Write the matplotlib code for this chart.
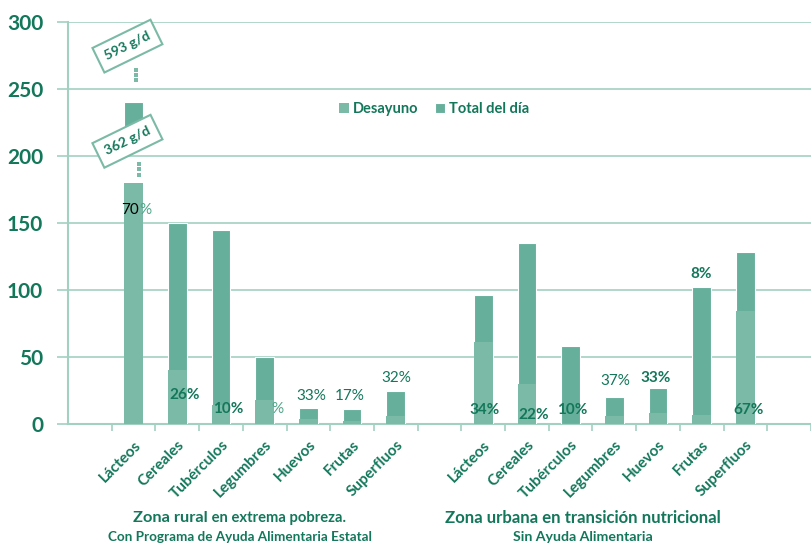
import matplotlib.pyplot as plt
import numpy as np

plt.rcParams['font.family'] = ['Lato', 'DejaVu Sans']

categorias = ['Lácteos', 'Cereales', 'Tubérculos', 'Legumbres', 'Huevos', 'Frutas', 'Superfluos']

# rural zone (lácteos bar is cut: real values 362 / 593 g/d)
total_rural = [240, 150, 145, 50, 12, 11, 25]
base_total_rural = [215, 0, 0, 0, 0, 0, 0]
desayuno_rural = [180, 40, 14.5, 18, 4, 2, 6]
pct_rural = ['70%', '26%', '10%', '%', '33%', '17%', '32%']

# urban zone
total_urbana = [96, 135, 58.5, 20.5, 26.5, 102, 128.5]
desayuno_urbana = [61, 30, 0, 6, 8.5, 7, 84]
pct_urbana = ['34%', '22%', '10%', '37%', '33%', '8%', '67%']

# where each percentage sits (x offset from bar, y in g/d)
pct_rural_pos = [(0.08, 160), (0.17, 22), (0.17, 11), (0.30, 11), (0.07, 21), (-0.05, 21), (0.01, 34)]
pct_urbana_pos = [(0.02, 10.5), (0.16, 7), (0.04, 10.5), (0.03, 32), (-0.06, 34), (-0.02, 112), (0.07, 10.5)]
pct_rural_bold = [False, True, True, False, False, False, False]
pct_urbana_bold = [True, True, True, False, True, True, True]

verde = '#13775a'
oscuro = '#66af9a'
claro = '#7bbaa6'
rejilla = '#a2d1c1'

x_rural = np.arange(1, 8)
x_urbana = np.arange(9, 16)
ancho = 0.43

fig = plt.figure(figsize=(8.11, 5.48), dpi=100)
ax = fig.add_axes([68 / 811, 124 / 548, 743 / 811, 402 / 548])

ax.bar(x_rural, np.array(total_rural) - np.array(base_total_rural), ancho,
       bottom=base_total_rural, color=oscuro, edgecolor='white', linewidth=0.8,
       zorder=3, label='Total del día')
ax.bar(x_rural, desayuno_rural, ancho, color=claro, linewidth=0,
       zorder=4, label='Desayuno')
ax.bar(x_urbana, total_urbana, ancho, color=oscuro, edgecolor='white',
       linewidth=0.8, zorder=3)
ax.bar(x_urbana, desayuno_urbana, ancho, color=claro, linewidth=0, zorder=4)

# percentage labels
for xs, pcts, pos, bolds in [(x_rural, pct_rural, pct_rural_pos, pct_rural_bold),
                             (x_urbana, pct_urbana, pct_urbana_pos, pct_urbana_bold)]:
    for xi, p, (dx, y), b in zip(xs, pcts, pos, bolds):
        if p == '70%':
            ax.text(xi + dx + 0.05, y, '70', ha='right', va='center', fontsize=11,
                    color='black', zorder=6)
            ax.text(xi + dx + 0.05, y, '%', ha='left', va='center', fontsize=11,
                    color='#4fa68a', zorder=6)
            continue
        col = '#4fa68a' if p == '%' else verde
        ax.text(xi + dx, y, p, ha='center', va='center', fontsize=11,
                fontweight='bold' if b else 'normal', color=col, zorder=6)

# break marks on the lácteos bar
x0 = x_rural[0]
for yy in [194, 190, 186]:
    ax.plot(x0 + 0.13, yy, 's', ms=2.2, mew=0, color=claro, zorder=5)
for yy in [264, 260.5, 257]:
    ax.plot(x0 + 0.05, yy, 's', ms=2.2, mew=0, color=claro, zorder=5)

caja = dict(boxstyle='square,pad=0.55', fc='white', ec=claro, lw=1.5)
ax.text(x0 - 0.14, 282, '593 g/d', rotation=26, ha='center', va='center',
        fontsize=10, fontweight='bold', color=verde, bbox=caja, zorder=7)
ax.text(x0 - 0.14, 211, '362 g/d', rotation=26, ha='center', va='center',
        fontsize=10, fontweight='bold', color=verde, bbox=caja, zorder=7)

ax.set_ylim(0, 300)
ax.set_xlim(-0.5, -0.5 + 743 / 44.2)
ax.set_yticks(range(0, 301, 50))
ax.grid(axis='y', color=rejilla, linewidth=1.2, zorder=0)
ax.tick_params(axis='y', length=8, width=1.2, color=rejilla, labelsize=15,
               labelcolor=verde, pad=10)
for lab in ax.get_yticklabels():
    lab.set_fontweight('bold')

ax.set_xticks(np.concatenate([x_rural, x_urbana]))
ax.set_xticklabels(categorias + categorias, rotation=45, ha='right',
                   rotation_mode='anchor', fontsize=11, fontweight='bold',
                   color=verde)
ax.tick_params(axis='x', which='major', length=0, pad=10)
ax.set_xticks(np.arange(0.5, 17), minor=True)
ax.tick_params(axis='x', which='minor', length=5, width=1.2, color=rejilla,
               direction='out')

for s in ['top', 'right']:
    ax.spines[s].set_visible(False)
ax.spines['left'].set_color(rejilla)
ax.spines['bottom'].set_color(rejilla)
ax.spines['left'].set_linewidth(1.5)
ax.spines['bottom'].set_linewidth(1.5)

h, l = ax.get_legend_handles_labels()
leg = fig.legend(h[::-1], l[::-1], loc='center', bbox_to_anchor=(434 / 811, 1 - 109 / 548),
                 ncol=2, frameon=False, fontsize=10.5, handlelength=0.7,
                 handleheight=0.7, handletextpad=0.3, columnspacing=1.1)
for t in leg.get_texts():
    t.set_color(verde)
    t.set_fontweight('bold')

# zone captions
t1 = fig.text(133 / 811, 1 - 518 / 548, 'Zona rural', ha='left', va='center',
              fontsize=11.8, fontweight='bold', color=verde)
ax.annotate(' en extrema pobreza.', xy=(1, 0.5), xycoords=t1, ha='left',
            va='center', fontsize=10.6, fontweight='bold', color=verde,
            annotation_clip=False)
fig.text(240 / 811, 1 - 537 / 548, 'Con Programa de Ayuda Alimentaria Estatal',
         ha='center', va='center', fontsize=9.7, fontweight='bold', color=verde)
fig.text(583 / 811, 1 - 518 / 548, 'Zona urbana en transición nutricional',
         ha='center', va='center', fontsize=12.1, fontweight='bold', color=verde)
fig.text(583 / 811, 1 - 537 / 548, 'Sin Ayuda Alimentaria',
         ha='center', va='center', fontsize=10.2, fontweight='bold', color=verde)

fig.savefig('out.png', dpi=100)
